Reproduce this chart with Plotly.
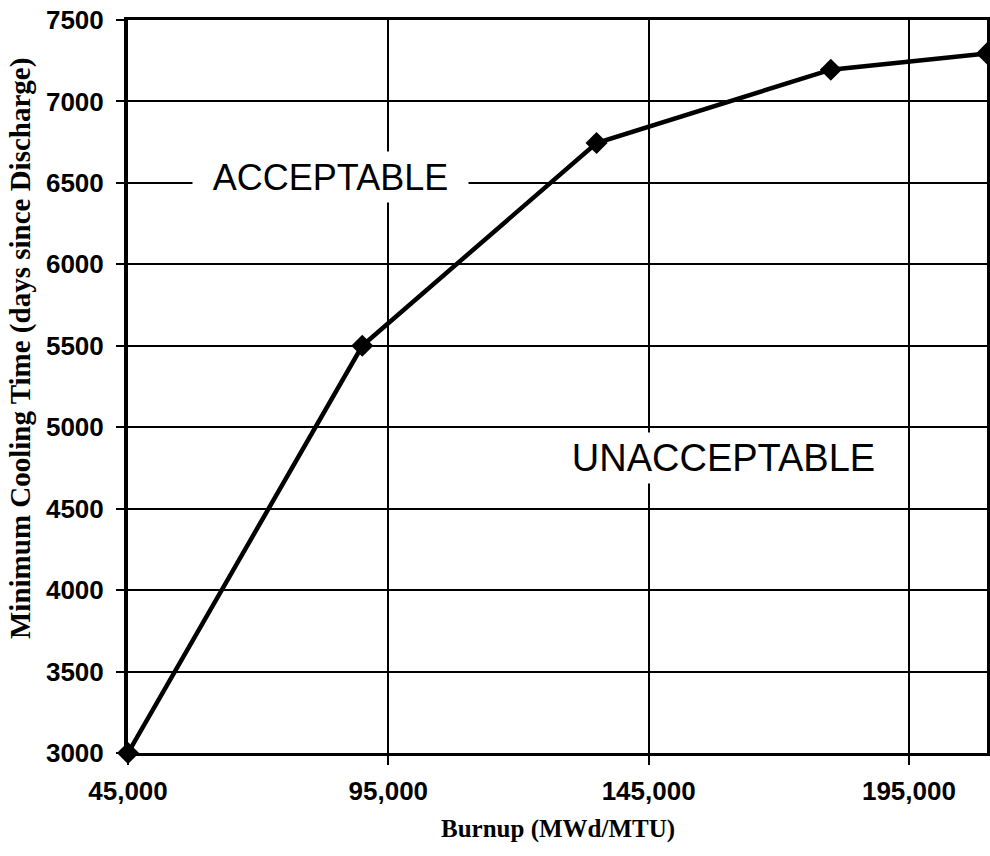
import plotly.graph_objects as go

burnup = [45000, 90000, 135000, 180000, 210000]
cooling_days = [3000, 5500, 6745, 7195, 7295]
x_ticks = [45000, 95000, 145000, 195000]
x_tick_labels = ["45,000", "95,000", "145,000", "195,000"]
y_ticks = [3000, 3500, 4000, 4500, 5000, 5500, 6000, 6500, 7000, 7500]

fig = go.Figure()
fig.add_trace(go.Scatter(
    x=burnup, y=cooling_days, mode="lines+markers",
    line=dict(color="black", width=4.5),
    marker=dict(symbol="diamond", size=17, color="black"),
    cliponaxis=False, showlegend=False,
))

fig.add_annotation(x=83800, y=6536, text="ACCEPTABLE", showarrow=False,
                   font=dict(family="Liberation Sans, Arial", size=36, color="black"),
                   bgcolor="white", width=275, height=50, borderpad=0)
fig.add_annotation(x=159290, y=4811, text="UNACCEPTABLE", showarrow=False,
                   font=dict(family="Liberation Sans, Arial", size=38, color="black"),
                   bgcolor="white", width=335, height=50, borderpad=0)

fig.add_annotation(x=0.5, y=-0.104, xref="paper", yref="paper",
                   text="<b>Burnup (MWd/MTU)</b>", showarrow=False,
                   xanchor="center", yanchor="middle",
                   font=dict(family="Liberation Serif, Times New Roman", size=25, color="black"))
fig.add_annotation(x=-0.125, y=0.552, xref="paper", yref="paper",
                   text="<b>Minimum Cooling Time (days since Discharge)</b>", showarrow=False,
                   textangle=-90, xanchor="center", yanchor="middle",
                   font=dict(family="Liberation Serif, Times New Roman", size=29, color="black"))

fig.update_layout(
    width=990, height=856,
    margin=dict(l=128, r=3, t=20, b=103),
    paper_bgcolor="white", plot_bgcolor="white",
    xaxis=dict(range=[45000, 210000], tickvals=x_ticks, ticktext=x_tick_labels,
               showgrid=True, gridcolor="black", gridwidth=2,
               showline=True, linecolor="black", linewidth=3, mirror=True,
               ticks="outside", ticklen=9, tickcolor="black", tickwidth=2,
               ticklabelstandoff=4,
               tickfont=dict(family="Liberation Sans, Arial", size=26, color="black", weight="bold"),
               zeroline=False, automargin=False),
    yaxis=dict(range=[3000, 7500], tickvals=y_ticks,
               showgrid=True, gridcolor="black", gridwidth=2,
               showline=True, linecolor="black", linewidth=4, mirror=True,
               ticks="outside", ticklen=8, tickcolor="black", tickwidth=2,
               ticklabelstandoff=7,
               tickfont=dict(family="Liberation Sans, Arial", size=26, color="black", weight="bold"),
               zeroline=False, automargin=False),
)

fig.write_html("out.html", config={"displayModeBar": False},
               post_script="document.body.style.margin='0';")
